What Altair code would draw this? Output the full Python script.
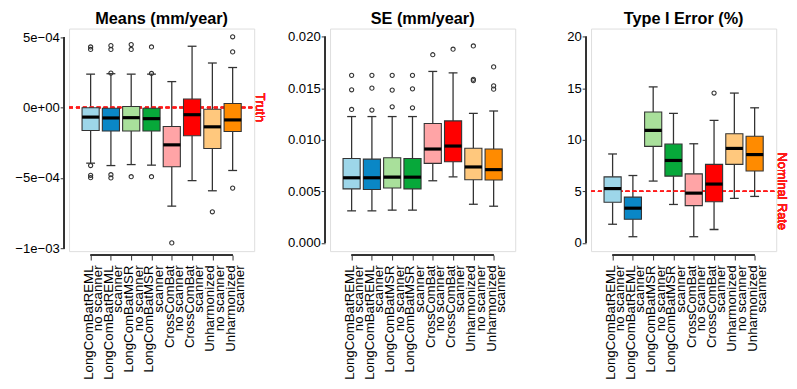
import json
import altair as alt
import pandas as pd

FONT = "Liberation Sans"

labels = [
    ["LongComBatREML", "no scanner"],
    ["LongComBatREML", "scanner"],
    ["LongComBatMSR", "no scanner"],
    ["LongComBatMSR", "scanner"],
    ["CrossComBat", "no scanner"],
    ["CrossComBat", "scanner"],
    ["Unharmonized", "no scanner"],
    ["Unharmonized", "scanner"],
]
colors = ["#9DD6E9", "#0A87C6", "#A9E09B", "#07A83A",
          "#FFA4A6", "#FF0000", "#FFC87D", "#FF8B00"]
idx = [1, 2, 3, 4, 5, 6, 7, 8]

# ---- Panel 1: Means (mm/year)
m_lo = [-3.95e-4, -4.12e-4, -4.05e-4, -4.09e-4, -7.0e-4, -5.19e-4, -5.91e-4, -4.47e-4]
m_q1 = [-1.63e-4, -1.67e-4, -1.67e-4, -1.67e-4, -4.21e-4, -2.0e-4, -2.91e-4, -1.70e-4]
m_med = [-0.68e-4, -0.74e-4, -0.72e-4, -0.79e-4, -2.65e-4, -0.51e-4, -1.37e-4, -0.88e-4]
m_q3 = [-0.02e-4, -0.05e-4, 0.07e-4, -0.05e-4, -1.35e-4, 0.60e-4, -0.12e-4, 0.28e-4]
m_hi = [2.37e-4, 2.40e-4, 2.37e-4, 2.37e-4, 1.84e-4, 4.35e-4, 3.16e-4, 2.84e-4]
m_out_i = [1, 1, 1, 1, 1, 2, 2, 2, 2, 2, 3, 3, 3, 4, 4, 4, 5, 7, 8, 8, 8]
m_out_v = [4.30e-4, 4.12e-4, -4.12e-4, -4.81e-4, -4.98e-4,
           4.40e-4, 4.12e-4, 2.44e-4, -4.77e-4, -5.0e-4,
           4.47e-4, 4.12e-4, -4.91e-4,
           4.30e-4, 2.42e-4, -4.91e-4,
           -9.61e-4, -7.40e-4,
           5.02e-4, 3.95e-4, -5.72e-4]
m_ticks = [-1e-3, -5e-4, 0.0, 5e-4]
m_tick_labels = ["\u22121e\u221203", "\u22125e\u221204", "0e+00", "5e\u221204"]

# ---- Panel 2: SE (mm/year)
s_lo = [0.00311, 0.00311, 0.00318, 0.00318, 0.00603, 0.00641, 0.00375, 0.00356]
s_q1 = [0.00524, 0.00518, 0.00533, 0.00524, 0.00772, 0.00787, 0.00613, 0.00610]
s_med = [0.00632, 0.00632, 0.00638, 0.00638, 0.00911, 0.00940, 0.00737, 0.00711]
s_q3 = [0.00819, 0.00813, 0.00826, 0.00819, 0.01159, 0.01184, 0.00918, 0.00911]
s_hi = [0.01226, 0.01226, 0.01226, 0.01226, 0.01664, 0.01651, 0.01257, 0.01280]
s_out_i = [1, 1, 1, 2, 2, 2, 3, 3, 3, 4, 4, 4, 5, 6, 7, 7, 7, 8, 8, 8]
s_out_v = [0.01626, 0.01486, 0.01295, 0.01626, 0.01502, 0.01289,
           0.01626, 0.01483, 0.01321, 0.01626, 0.01495, 0.01311,
           0.01826, 0.01880, 0.01911, 0.01588, 0.01575,
           0.01708, 0.01524, 0.01492]
s_ticks = [0.0, 0.005, 0.010, 0.015, 0.020]
s_tick_labels = ["0.000", "0.005", "0.010", "0.015", "0.020"]

# ---- Panel 3: Type I Error (%)
t_lo = [1.81, 0.60, 6.0, 3.73, 0.60, 1.30, 4.32, 4.51]
t_q1 = [3.94, 2.29, 9.37, 6.48, 3.62, 4.0, 7.62, 6.98]
t_med = [5.27, 3.37, 10.92, 8.0, 4.83, 5.71, 9.17, 8.57]
t_q3 = [6.41, 4.44, 12.70, 9.59, 6.70, 7.62, 10.60, 10.35]
t_hi = [8.63, 6.54, 15.14, 12.57, 9.62, 11.90, 14.54, 13.11]
t_out_i = [6]
t_out_v = [14.54]
t_ticks = [0, 5, 10, 15, 20]
t_tick_labels = ["0", "5", "10", "15", "20"]

W, H = 188, 226
YOFF, YTICK = 5, 4
XOFF, XTICK = 4, 5
REF_RED = "#FF1A1A"


def label_expr(values, texts):
    expr = json.dumps(texts[-1])
    for i in range(len(values) - 2, -1, -1):
        mid = (values[i] + values[i + 1]) / 2
        expr = f"datum.value < {mid} ? {json.dumps(texts[i])} : {expr}"
    return expr


def panel(title, lo, q1, med, q3, hi, out_i, out_v, ydom, ticks, tick_labels,
          ref=None, ref_text=None):
    df = pd.DataFrame({"idx": idx, "lo": lo, "q1": q1, "med": med, "q3": q3,
                       "hi": hi, "col": colors})
    od = pd.DataFrame({"idx": out_i, "v": out_v})
    xs = alt.Scale(domain=[0.18, 8.82], nice=False, zero=False)
    ys = alt.Scale(domain=ydom, nice=False, zero=False)
    xaxis = alt.Axis(values=idx, labelExpr=f"{json.dumps(labels)}[datum.value - 1]",
                     labelAngle=-90, grid=False, domain=False, tickSize=XTICK,
                     tickColor="#333333", offset=XOFF, labelPadding=5,
                     labelFont=FONT, labelFontSize=13.5, labelColor="#000000",
                     labelLineHeight=9.5, labelOverlap=False, labelFlush=False,
                     labelBound=False, labelOffset=-2.5, title=None)
    yaxis = alt.Axis(values=ticks, labelExpr=label_expr(ticks, tick_labels),
                     grid=False, domain=False, tickSize=YTICK, tickColor="#333333",
                     offset=YOFF, labelPadding=1, labelFont=FONT, labelFontSize=13.3,
                     labelColor="#000000", labelOverlap=False, labelFlush=False,
                     title=None)
    X = alt.X("idx:Q", scale=xs, axis=xaxis)

    def Y(field):
        return alt.Y(field, scale=ys, axis=yaxis)

    base = alt.Chart(df)
    layers = [
        base.mark_rule(color="#333333", strokeWidth=1.3).encode(
            x=X, y=Y("lo:Q"), y2="q1:Q"),
        base.mark_rule(color="#333333", strokeWidth=1.3).encode(
            x=X, y=Y("q3:Q"), y2="hi:Q"),
        base.mark_tick(orient="horizontal", size=9, thickness=1.3, color="#333333",
                       opacity=1).encode(x=X, y=Y("lo:Q")),
        base.mark_tick(orient="horizontal", size=9, thickness=1.3, color="#333333",
                       opacity=1).encode(x=X, y=Y("hi:Q")),
    ]
    if ref is not None:
        layers.append(alt.Chart(df).mark_rule(color=REF_RED, strokeDash=[4, 3],
                                              strokeWidth=1.4).encode(
            x=alt.value(0), x2=alt.value(W),
            y=alt.datum(ref, scale=ys, axis=yaxis)))
    layers += [
        base.mark_bar(size=17.4, stroke="#333333", strokeWidth=1.1, opacity=1).encode(
            x=X, y=Y("q1:Q"), y2="q3:Q",
            color=alt.Color("col:N", scale=None)),
        base.mark_tick(orient="horizontal", size=17.4, thickness=3.2, color="#000000",
                       opacity=1).encode(x=X, y=Y("med:Q")),
        alt.Chart(od).mark_point(shape="circle", filled=False, size=18, color="#333333",
                                 strokeWidth=1.1, opacity=1).encode(
            x=X, y=Y("v:Q")),
        # R-style axis lines spanning first to last tick
        base.mark_rule(color="#333333", strokeWidth=1).encode(
            x=alt.value(-YOFF), y=alt.datum(ticks[0], scale=ys, axis=yaxis),
            y2=alt.datum(ticks[-1])),
        base.mark_rule(color="#333333", strokeWidth=1).encode(
            y=alt.value(H + XOFF), x=alt.datum(1, scale=xs, axis=xaxis),
            x2=alt.datum(8)),
    ]
    if ref_text is not None:
        layers.append(alt.Chart(df).mark_text(
            text=ref_text, angle=90, color=REF_RED, font=FONT, fontSize=13,
            fontWeight="normal", align="center", baseline="middle").encode(
            x=alt.value(W + 6), y=alt.datum(ref, scale=ys, axis=yaxis)))
    return alt.layer(*layers).properties(
        width=W, height=H,
        title=alt.TitleParams(title, font=FONT, fontSize=16.5, fontWeight="bold",
                              color="#000000", anchor="middle", offset=1),
    )


p1 = panel("Means (mm/year)", m_lo, m_q1, m_med, m_q3, m_hi, m_out_i, m_out_v,
           [-1.0195e-3, 5.605e-4], m_ticks, m_tick_labels, ref=0.0, ref_text="Truth")
p2 = panel("SE (mm/year)", s_lo, s_q1, s_med, s_q3, s_hi, s_out_i, s_out_v,
           [-0.0008, 0.0208], s_ticks, s_tick_labels)
p3 = panel("Type I Error (%)", t_lo, t_q1, t_med, t_q3, t_hi, t_out_i, t_out_v,
           [-0.8, 20.8], t_ticks, t_tick_labels, ref=5.0, ref_text="Nominal Rate")

chart = alt.hconcat(p1, p2, p3, spacing=77).properties(
    bounds="flush", padding={"top": 0, "left": 6, "right": 0, "bottom": 0}
).configure_view(stroke="#333333", strokeWidth=1.2).configure(background="white")

chart.save("out.html", embed_options={"renderer": "svg", "actions": False})
